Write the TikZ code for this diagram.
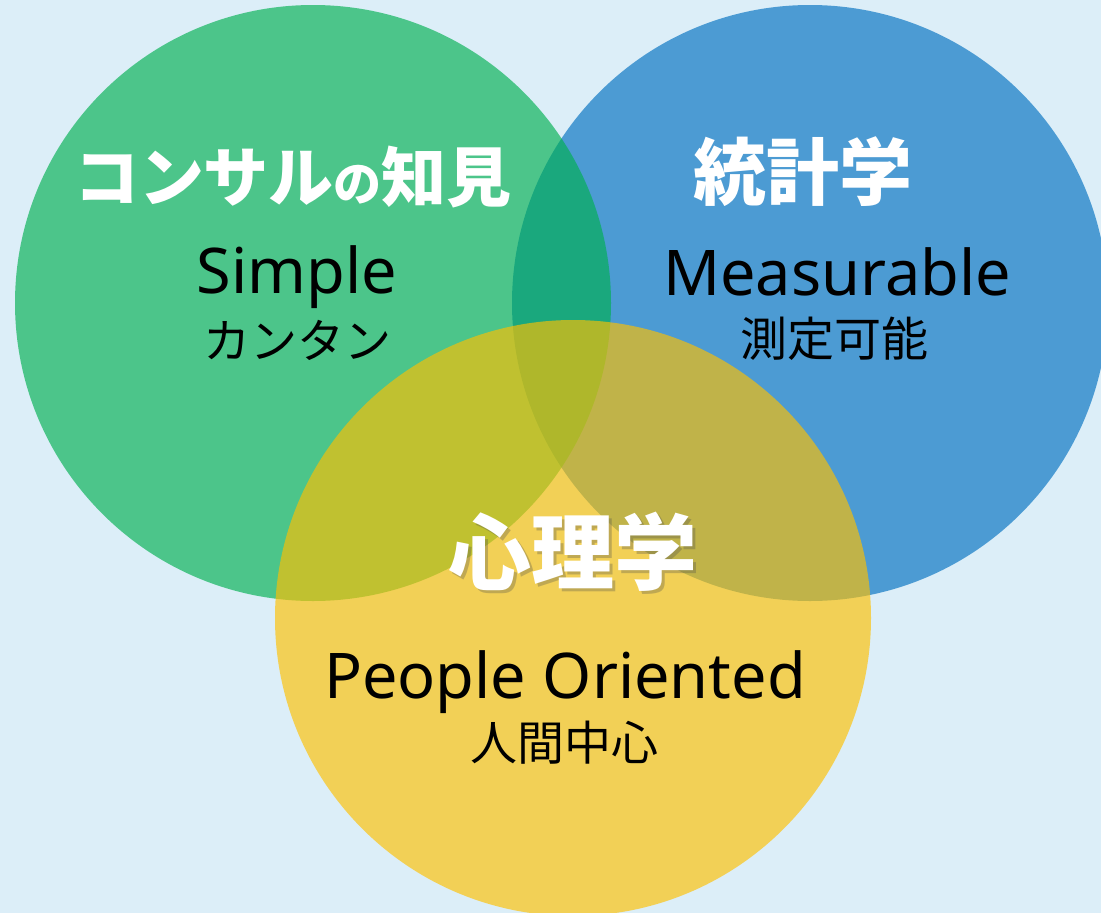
\documentclass[tikz,border=0pt]{standalone}
\usepackage{fontspec}
\setmainfont{Noto Sans}
\newfontfamily\jpfont{Noto Sans CJK JP}
\usepackage{xcolor}
\usetikzlibrary{positioning}

\definecolor{bgblue}{HTML}{DCEEF8}
\definecolor{vgreen}{HTML}{00B050}
\definecolor{vblue}{HTML}{0070C0}
\definecolor{vyellow}{HTML}{FFC000}

\tikzset{
    venn/.style={fill opacity=0.65},
    heading/.style={text=white, inner sep=0pt, font=\jpfont\bfseries},
    keyword/.style={text=black, inner sep=0pt, anchor=base, font=\fontsize{63}{63}\selectfont},
    subword/.style={text=black, inner sep=0pt, font=\jpfont\fontsize{47}{47}\selectfont}
}

\begin{document}
\begin{tikzpicture}[x=1pt, y=-1pt]
    % Background
    \fill[bgblue] (0,0) rectangle (1101,913);
    \useasboundingbox (0,0) rectangle (1101,913);

    % Circles
    \begin{scope}
        \clip (0,0) rectangle (1101,913);
        \fill[vblue, venn] (810,303) circle[radius=298pt];
        \fill[vgreen, venn] (313,303) circle[radius=298pt];
        \fill[vyellow, venn] (573,618) circle[radius=298pt];
    \end{scope}

    % Headings
    \node[heading] (consul) at (293,177) {\fontsize{65}{65}\selectfont コンサル{\fontsize{48}{48}\selectfont の}知見};
    \node[heading] (stats) at (803,172) {\fontsize{73}{73}\selectfont 統計学};
    \node[heading, text=black!70, opacity=0.3] (psych-shadow) at (576,555) {\fontsize{83}{83}\selectfont 心理学};
    \node[heading] (psych) at (573,552) {\fontsize{83}{83}\selectfont 心理学};

    % Keywords
    \node[keyword] (simple) at (297,293) {Simple};
    \node[subword] (simple-jp) at (297,340) {カンタン};
    \node[keyword] (measurable) at (837,295) {Measurable};
    \node[subword] (measurable-jp) at (834,339) {測定可能};
    \node[keyword] (people) at (565,698) {People Oriented};
    \node[subword] (people-jp) at (564,743) {人間中心};
\end{tikzpicture}
\end{document}
